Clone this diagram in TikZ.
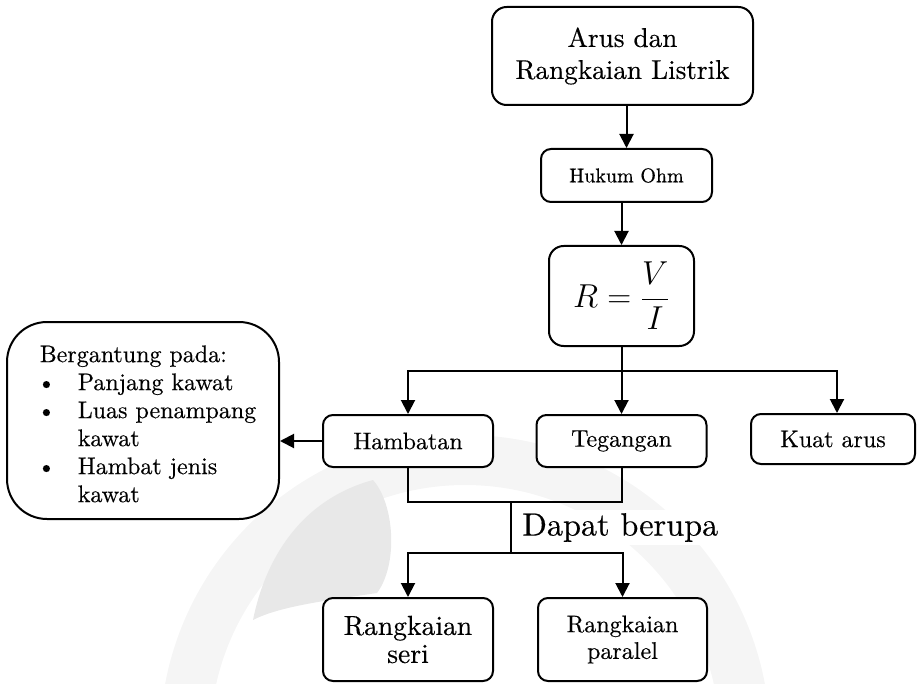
\documentclass[tikz,border=0pt]{standalone}
\usepackage{fontspec}
\setmainfont{lmroman10}[Extension=.otf, UprightFont=*-regular, FakeBold=0.35]
\usetikzlibrary{arrows.meta}
\begin{document}
\begin{tikzpicture}[x=0.75pt,y=-0.75pt,
  box/.style={draw, line width=1.5pt, fill=white, rounded corners=7.5pt,
              inner sep=0pt, align=center},
  link/.style={line width=1.5pt},
  arr/.style={link, -{Triangle[width=10.5pt,length=10.5pt]}}]

\path[use as bounding box] (0,0) rectangle (917,684);

% faint logo in the background
\begin{scope}
  \clip (0,0) rectangle (917,684);
  \fill[gray!8, even odd rule] (465,740) circle[radius=305] (465,740) circle[radius=255];
  \fill[gray!18] (373,480) .. controls (395,505) and (398,565) .. (377,593)
                 .. controls (330,600) and (280,606) .. (253,620)
                 .. controls (265,560) and (300,500) .. (373,480);
\end{scope}

% label of the lower fork
\node[anchor=west, fill=white, inner sep=0pt, minimum height=26.25pt,
      text width=184.5pt, align=left, font=\fontsize{24.2}{28}\selectfont]
  (lbl) at (501,527.5) {\hspace*{15.75pt}Dapat berupa};

% boxes
\node[box, rounded corners=11pt, minimum width=195.75pt, minimum height=73.5pt,
      font=\fontsize{20.4}{24}\selectfont] (top) at (622.5,56) {Arus dan\\Rangkaian Listrik};
\node[box, minimum width=128.25pt, minimum height=39.75pt,
      font=\fontsize{15}{18}\selectfont] (ohm) at (626.5,175.5) {Hukum Ohm};
\node[box, rounded corners=11pt, minimum width=108.75pt, minimum height=75pt,
      font=\fontsize{24}{28}\selectfont] (R) at (621.5,296) {$\displaystyle R=\frac{V}{I}$};
\node[box, minimum width=127.5pt, minimum height=39pt,
      font=\fontsize{18}{21}\selectfont] (ham) at (408,441) {Hambatan};
\node[box, minimum width=127.5pt, minimum height=39pt,
      font=\fontsize{18}{21}\selectfont] (teg) at (621.5,441) {Tegangan};
\node[box, minimum width=123pt, minimum height=37.5pt,
      font=\fontsize{18}{21}\selectfont] (kuat) at (833,439) {Kuat arus};
\node[box, rounded corners=30pt, minimum width=204pt, minimum height=147.75pt,
      font=\fontsize{18}{21}\selectfont] (berg) at (143,420.5)
  {\hspace*{7.5pt}\raisebox{-4.5pt}[\height][\depth]{\begin{tabular}{@{}p{28.5pt}@{}l@{}}
     \multicolumn{2}{@{}l@{}}{Bergantung pada:}\\
     \hspace*{-2pt}\textbullet & Panjang kawat\\
     \hspace*{-2pt}\textbullet & Luas penampang\\
                               & kawat\\
     \hspace*{-2pt}\textbullet & Hambat jenis\\
                               & kawat
   \end{tabular}}};
\node[box, minimum width=127.5pt, minimum height=62.25pt,
      font=\fontsize{20.7}{21}\selectfont] (seri) at (408,639.5) {Rangkaian\\seri};
\node[box, minimum width=126.75pt, minimum height=62.25pt,
      font=\fontsize{18}{20}\selectfont] (par) at (622.5,639.5) {Rangkaian\\paralel};

% connectors
\draw[arr] (top.south -| ohm.north) -- (ohm.north);
\draw[arr] (ohm.south -| R.north) -- (R.north);

\coordinate (bus) at (621.5,371);
\draw[link] (R.south) -- (bus);
\draw[arr] (bus) -| (ham.north);
\draw[arr] (bus) -- (teg.north);
\draw[arr] (bus) -| ([xshift=3pt]kuat.north);

\draw[arr] (ham.west) -- (ham.west -| berg.east);

\coordinate (split) at (511,502);
\coordinate (fork) at (511,553);
\draw[link] (ham.south) |- (split) -| (teg.south);
\draw[link] (split) -- (fork);
\draw[arr] (fork) -| (seri.north);
\draw[arr] (fork) -| (par.north);

\end{tikzpicture}
\end{document}
